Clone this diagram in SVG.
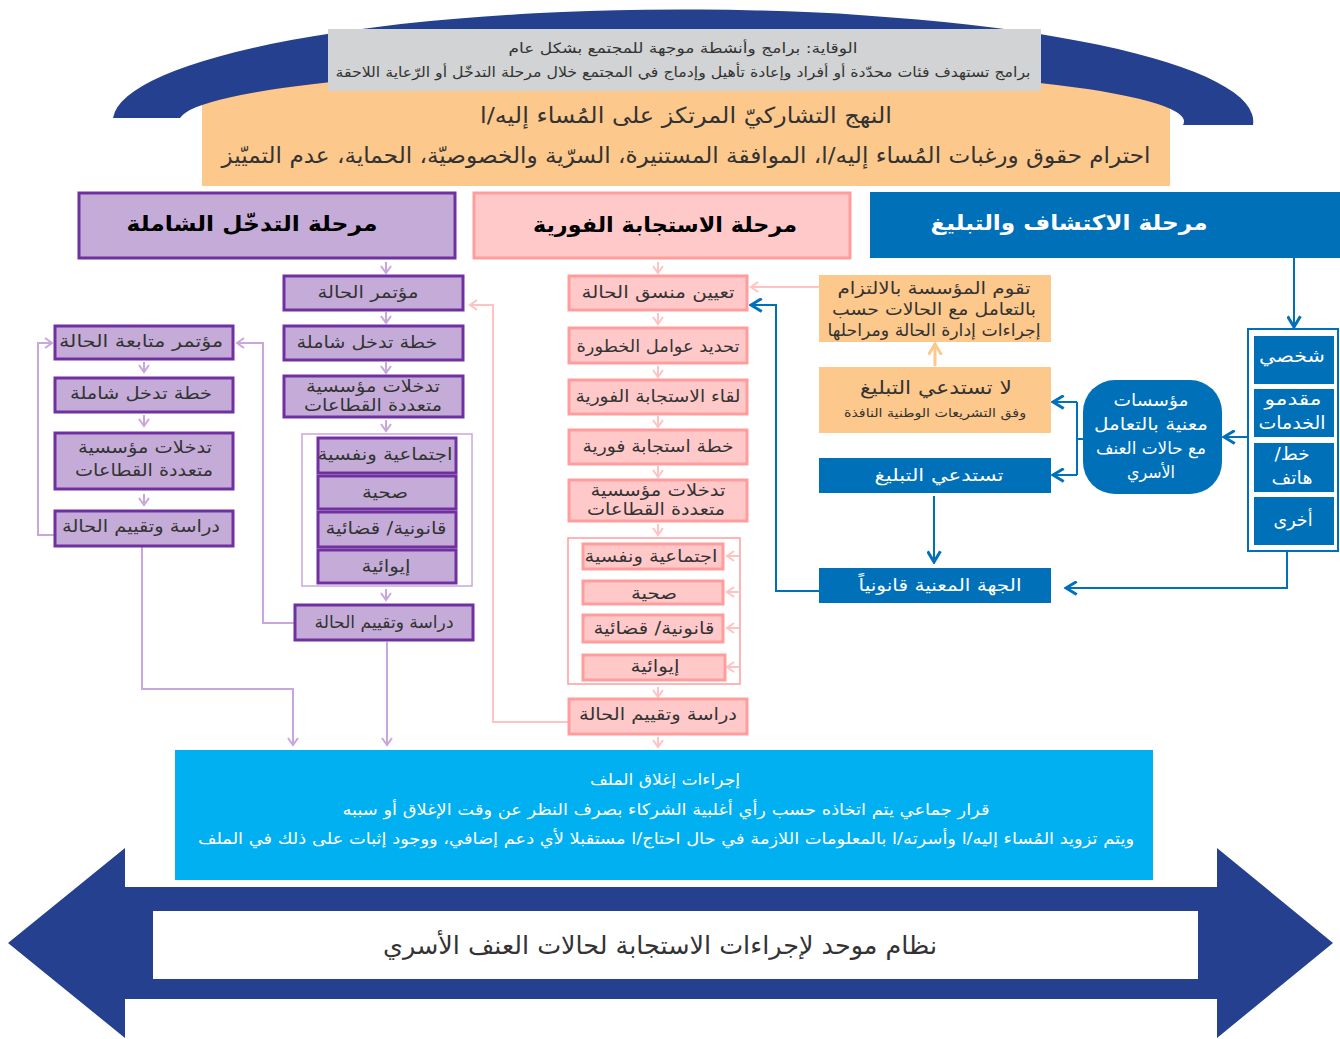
<svg xmlns="http://www.w3.org/2000/svg" width="1340" height="1039" viewBox="0 0 1340 1039">
<style>
text{font-family:'DejaVu Sans','Noto Sans',sans-serif;text-anchor:middle;direction:rtl;}
.d{fill:#333;font-size:17px;}
.w{fill:#fff;font-size:17px;}
.h{fill:#000;font-size:21px;font-weight:bold;}
.hw{fill:#fff;font-size:21px;font-weight:bold;}
.pb{fill:#c5acd8;stroke:#7030a0;stroke-width:3;}
.pk{fill:#ffc9c9;stroke:#ff9d9d;stroke-width:3;}
.bl{fill:#0070b9;}
.or{fill:#fdc88c;}
.lp{fill:none;stroke:#c8a8dc;stroke-width:2;}
.lk{fill:none;stroke:#ffc3c3;stroke-width:2;}
.lb{fill:none;stroke:#0070b9;stroke-width:2;}
.lo{fill:none;stroke:#fdc88c;stroke-width:3;}
</style>
<defs>
<marker id="mp" viewBox="0 0 12 12" refX="10" refY="6" markerWidth="12" markerHeight="12" orient="auto" markerUnits="userSpaceOnUse"><path d="M3,1 L10,6 L3,11" fill="none" stroke="#c8a8dc" stroke-width="2"/></marker>
<marker id="mk" viewBox="0 0 12 12" refX="10" refY="6" markerWidth="12" markerHeight="12" orient="auto" markerUnits="userSpaceOnUse"><path d="M3,1 L10,6 L3,11" fill="none" stroke="#ffc3c3" stroke-width="2"/></marker>
<marker id="mb" viewBox="0 0 14 14" refX="12" refY="7" markerWidth="15" markerHeight="15" orient="auto" markerUnits="userSpaceOnUse"><path d="M2,1 L12,7 L2,13" fill="none" stroke="#0070b9" stroke-width="2.8"/></marker>
<marker id="mo" viewBox="0 0 14 14" refX="12" refY="7" markerWidth="15" markerHeight="15" orient="auto" markerUnits="userSpaceOnUse"><path d="M2,1 L12,7 L2,13" fill="none" stroke="#fdc88c" stroke-width="2.8"/></marker>
</defs>

<g id="top">
<rect class="or" x="202" y="72" width="968" height="114"/>
<path d="M113,118 A570,112 0 0 1 1253,125 L1183,125 A502,55 0 0 0 180,118 Z" fill="#25408f"/>
<rect x="328" y="29" width="713" height="62" fill="#d1d3d4"/>
<text class="d" style="font-size:14px" x="683" y="53" textLength="349" lengthAdjust="spacingAndGlyphs">الوقاية: برامج وأنشطة موجهة للمجتمع بشكل عام</text>
<text class="d" style="font-size:14px" x="683" y="77" textLength="695" lengthAdjust="spacingAndGlyphs">برامج تستهدف فئات محدّدة أو أفراد وإعادة تأهيل وإدماج في المجتمع خلال مرحلة التدخّل أو الرّعاية اللاحقة</text>
<text class="d" style="font-size:22px" x="686" y="123" textLength="412" lengthAdjust="spacingAndGlyphs">النهج التشاركيّ المرتكز على المُساء إليه/ا</text>
<text class="d" style="font-size:22px" x="686" y="163" textLength="929" lengthAdjust="spacingAndGlyphs">احترام حقوق ورغبات المُساء إليه/ا، الموافقة المستنيرة، السرّية والخصوصيّة، الحماية، عدم التميّيز</text>
</g>

<g id="connectors">
<path class="lp" d="M386,262 V273" marker-end="url(#mp)"/>
<path class="lp" d="M386,312 V323" marker-end="url(#mp)"/>
<path class="lp" d="M386,362 V373" marker-end="url(#mp)"/>
<path class="lp" d="M386,420 V431" marker-end="url(#mp)"/>
<path class="lp" d="M386,589 V600" marker-end="url(#mp)"/>
<path class="lp" d="M144,362 V372" marker-end="url(#mp)"/>
<path class="lp" d="M144,415 V426" marker-end="url(#mp)"/>
<path class="lp" d="M144,494 V505" marker-end="url(#mp)"/>
<path class="lp" d="M55,535 H38 V343 H52" marker-end="url(#mp)"/>
<path class="lp" d="M295,623 H263 V343 H237" marker-end="url(#mp)"/>
<path class="lp" d="M142,547 V689 H293 V745" marker-end="url(#mp)"/>
<path class="lp" d="M387,642 V745" marker-end="url(#mp)"/>

<path class="lk" d="M658,262 V273" marker-end="url(#mk)"/>
<path class="lk" d="M658,313 V324" marker-end="url(#mk)"/>
<path class="lk" d="M658,366 V377" marker-end="url(#mk)"/>
<path class="lk" d="M658,416 V427" marker-end="url(#mk)"/>
<path class="lk" d="M658,466 V477" marker-end="url(#mk)"/>
<path class="lk" d="M658,524 V535" marker-end="url(#mk)"/>
<path class="lk" d="M658,687 V697" marker-end="url(#mk)"/>
<path class="lk" d="M658,737 V747" marker-end="url(#mk)"/>
<path class="lk" d="M739,556 H727" marker-end="url(#mk)"/>
<path class="lk" d="M739,592 H727" marker-end="url(#mk)"/>
<path class="lk" d="M739,628 H727" marker-end="url(#mk)"/>
<path class="lk" d="M739,667 H727" marker-end="url(#mk)"/>
<path class="lk" d="M568,722 H493 V305 H470" marker-end="url(#mk)"/>
<path class="lk" d="M819,287 H751" marker-end="url(#mk)"/>

<path class="lb" d="M819,591 H776 V305 H751" marker-end="url(#mb)"/>
<path class="lb" d="M1294,258 V327" marker-end="url(#mb)"/>
<path class="lb" d="M1248,437 H1224" marker-end="url(#mb)"/>
<path class="lb" d="M1083,439 H1077 M1077,402 V475"/>
<path class="lb" d="M1077,402 H1053" marker-end="url(#mb)"/>
<path class="lb" d="M1077,475 H1053" marker-end="url(#mb)"/>
<path class="lb" d="M934,496 V562" marker-end="url(#mb)"/>
<path class="lb" d="M1287,551 V588 H1066" marker-end="url(#mb)"/>
<path class="lo" d="M935,366 V344" marker-end="url(#mo)"/>
</g>

<g id="purple-header"><rect class="pb" x="79" y="193" width="376" height="65"/><text class="h" x="252" y="231" textLength="251" lengthAdjust="spacingAndGlyphs">مرحلة التدخّل الشاملة</text></g>
<g id="p1"><rect class="pb" x="284" y="276" width="179" height="34"/><text class="d" x="368" y="298" textLength="101" lengthAdjust="spacingAndGlyphs">مؤتمر الحالة</text></g>
<g id="p2"><rect class="pb" x="284" y="326" width="179" height="34"/><text class="d" x="367" y="348" textLength="141" lengthAdjust="spacingAndGlyphs">خطة تدخل شاملة</text></g>
<g id="p3"><rect class="pb" x="284" y="376" width="179" height="41"/><text class="d" x="373" y="392" textLength="134" lengthAdjust="spacingAndGlyphs">تدخلات مؤسسية</text><text class="d" x="373" y="411" textLength="138" lengthAdjust="spacingAndGlyphs">متعددة القطاعات</text></g>
<g id="p-group"><rect x="302" y="434" width="170" height="152" fill="none" stroke="#c8a8dc" stroke-width="1.5"/></g>
<g id="p4"><rect class="pb" x="318" y="438" width="138" height="35"/><text class="d" x="385" y="460" textLength="135" lengthAdjust="spacingAndGlyphs">اجتماعية ونفسية</text></g>
<g id="p5"><rect class="pb" x="318" y="476" width="138" height="33"/><text class="d" x="385" y="498" textLength="46" lengthAdjust="spacingAndGlyphs">صحية</text></g>
<g id="p6"><rect class="pb" x="318" y="512" width="138" height="35"/><text class="d" x="386" y="534" textLength="121" lengthAdjust="spacingAndGlyphs">قانونية/ قضائية</text></g>
<g id="p7"><rect class="pb" x="318" y="550" width="138" height="33"/><text class="d" x="386" y="572" textLength="49" lengthAdjust="spacingAndGlyphs">إيوائية</text></g>
<g id="p8"><rect class="pb" x="295" y="605" width="178" height="35"/><text class="d" x="384" y="628" textLength="139" lengthAdjust="spacingAndGlyphs">دراسة وتقييم الحالة</text></g>
<g id="q1"><rect class="pb" x="55" y="326" width="178" height="33"/><text class="d" x="141" y="347" textLength="164" lengthAdjust="spacingAndGlyphs">مؤتمر متابعة الحالة</text></g>
<g id="q2"><rect class="pb" x="55" y="378" width="178" height="34"/><text class="d" x="141" y="399" textLength="142" lengthAdjust="spacingAndGlyphs">خطة تدخل شاملة</text></g>
<g id="q3"><rect class="pb" x="55" y="433" width="178" height="56"/><text class="d" x="145" y="453" textLength="134" lengthAdjust="spacingAndGlyphs">تدخلات مؤسسية</text><text class="d" x="144" y="476" textLength="138" lengthAdjust="spacingAndGlyphs">متعددة القطاعات</text></g>
<g id="q4"><rect class="pb" x="55" y="511" width="178" height="35"/><text class="d" x="141" y="532" textLength="158" lengthAdjust="spacingAndGlyphs">دراسة وتقييم الحالة</text></g>

<g id="pink-header"><rect class="pk" x="474" y="193" width="376" height="65"/><text class="h" x="665" y="232" textLength="264" lengthAdjust="spacingAndGlyphs">مرحلة الاستجابة الفورية</text></g>
<g id="k1"><rect class="pk" x="569" y="276" width="178" height="34"/><text class="d" x="658" y="298" textLength="153" lengthAdjust="spacingAndGlyphs">تعيين منسق الحالة</text></g>
<g id="k2"><rect class="pk" x="569" y="328" width="178" height="35"/><text class="d" x="658" y="352" textLength="163" lengthAdjust="spacingAndGlyphs">تحديد عوامل الخطورة</text></g>
<g id="k3"><rect class="pk" x="569" y="380" width="178" height="34"/><text class="d" x="658" y="402" textLength="165" lengthAdjust="spacingAndGlyphs">لقاء الاستجابة الفورية</text></g>
<g id="k4"><rect class="pk" x="569" y="430" width="178" height="34"/><text class="d" x="658" y="452" textLength="151" lengthAdjust="spacingAndGlyphs">خطة استجابة فورية</text></g>
<g id="k5"><rect class="pk" x="569" y="480" width="178" height="41"/><text class="d" x="658" y="496" textLength="135" lengthAdjust="spacingAndGlyphs">تدخلات مؤسسية</text><text class="d" x="656" y="515" textLength="138" lengthAdjust="spacingAndGlyphs">متعددة القطاعات</text></g>
<g id="k-group"><rect x="568" y="538" width="172" height="146" fill="none" stroke="#ff9d9d" stroke-width="1.5"/></g>
<g id="k6"><rect class="pk" x="583" y="544" width="140" height="25"/><text class="d" x="651" y="562" textLength="133" lengthAdjust="spacingAndGlyphs">اجتماعية ونفسية</text></g>
<g id="k7"><rect class="pk" x="583" y="581" width="140" height="23"/><text class="d" x="654" y="599" textLength="46" lengthAdjust="spacingAndGlyphs">صحية</text></g>
<g id="k8"><rect class="pk" x="583" y="615" width="140" height="27"/><text class="d" x="654" y="634" textLength="121" lengthAdjust="spacingAndGlyphs">قانونية/ قضائية</text></g>
<g id="k9"><rect class="pk" x="583" y="655" width="142" height="25"/><text class="d" x="655" y="672" textLength="49" lengthAdjust="spacingAndGlyphs">إيوائية</text></g>
<g id="k10"><rect class="pk" x="569" y="699" width="178" height="35"/><text class="d" x="658" y="720" textLength="158" lengthAdjust="spacingAndGlyphs">دراسة وتقييم الحالة</text></g>

<g id="blue-header"><rect class="bl" x="870" y="192" width="470" height="66"/><text class="hw" x="1069" y="230" textLength="277" lengthAdjust="spacingAndGlyphs">مرحلة الاكتشاف والتبليغ</text></g>
<g id="b-group"><rect x="1248" y="329" width="90" height="222" fill="#fff" stroke="#0070b9" stroke-width="2"/></g>
<g id="b1"><rect class="bl" x="1254" y="336" width="80" height="48"/><text class="w" style="font-size:18px" x="1292" y="362" textLength="66" lengthAdjust="spacingAndGlyphs">شخصي</text></g>
<g id="b2"><rect class="bl" x="1254" y="389" width="80" height="48"/><text class="w" style="font-size:18px" x="1293" y="405" textLength="57" lengthAdjust="spacingAndGlyphs">مقدمو</text><text class="w" style="font-size:18px" x="1292" y="429" textLength="67" lengthAdjust="spacingAndGlyphs">الخدمات</text></g>
<g id="b3"><rect class="bl" x="1254" y="443" width="80" height="49"/><text class="w" style="font-size:18px" x="1292" y="460" textLength="35" lengthAdjust="spacingAndGlyphs">خط/</text><text class="w" style="font-size:18px" x="1292" y="484" textLength="41" lengthAdjust="spacingAndGlyphs">هاتف</text></g>
<g id="b4"><rect class="bl" x="1254" y="497" width="80" height="48"/><text class="w" style="font-size:18px" x="1293" y="526" textLength="39" lengthAdjust="spacingAndGlyphs">أخرى</text></g>
<g id="b5"><rect class="bl" x="1083" y="380" width="139" height="114" rx="32"/><text class="w" x="1151" y="406" textLength="75" lengthAdjust="spacingAndGlyphs">مؤسسات</text><text class="w" x="1151" y="430" textLength="114" lengthAdjust="spacingAndGlyphs">معنية بالتعامل</text><text class="w" x="1151" y="454" textLength="110" lengthAdjust="spacingAndGlyphs">مع حالات العنف</text><text class="w" x="1151" y="478" textLength="48" lengthAdjust="spacingAndGlyphs">الأسري</text></g>
<g id="b6"><rect class="or" x="819" y="275" width="232" height="67"/><text class="d" x="934" y="294" textLength="193" lengthAdjust="spacingAndGlyphs">تقوم المؤسسة بالالتزام</text><text class="d" x="934" y="315" textLength="204" lengthAdjust="spacingAndGlyphs">بالتعامل مع الحالات حسب</text><text class="d" x="934" y="336" textLength="213" lengthAdjust="spacingAndGlyphs">إجراءات إدارة الحالة ومراحلها</text></g>
<g id="b7"><rect class="or" x="819" y="367" width="232" height="66"/><text class="d" style="font-size:19px" x="936" y="394" textLength="152" lengthAdjust="spacingAndGlyphs">لا تستدعي التبليغ</text><text class="d" style="font-size:12px" x="935" y="417" textLength="182" lengthAdjust="spacingAndGlyphs">وفق التشريعات الوطنية النافذة</text></g>
<g id="b8"><rect class="bl" x="819" y="458" width="232" height="35"/><text class="w" x="939" y="481" textLength="129" lengthAdjust="spacingAndGlyphs">تستدعي التبليغ</text></g>
<g id="b9"><rect class="bl" x="819" y="568" width="232" height="35"/><text class="w" x="940" y="591" textLength="163" lengthAdjust="spacingAndGlyphs">الجهة المعنية قانونياً</text></g>

<g id="closing"><rect x="175" y="750" width="978" height="130" fill="#00b0f0"/>
<text class="w" style="font-size:16px" x="665" y="785" textLength="150" lengthAdjust="spacingAndGlyphs">إجراءات  إغلاق الملف</text>
<text class="w" style="font-size:16px" x="666" y="815" textLength="647" lengthAdjust="spacingAndGlyphs">قرار جماعي يتم اتخاذه حسب رأي أغلبية الشركاء بصرف النظر عن وقت الإغلاق أو سببه</text>
<text class="w" style="font-size:16px" x="666" y="844" textLength="936" lengthAdjust="spacingAndGlyphs">ويتم تزويد المُساء إليه/ا وأسرته/ا بالمعلومات اللازمة في حال احتاج/ا مستقبلا لأي دعم إضافي، ووجود إثبات على ذلك في الملف</text>
</g>

<g id="system">
<polygon points="8,943 125,848 125,887 1217,887 1217,848 1333,943 1217,1038 1217,999 125,999 125,1038" fill="#25408f"/>
<rect x="153" y="911" width="1045" height="68" fill="#fff"/>
<text class="d" style="font-size:25px" x="660" y="954" textLength="554" lengthAdjust="spacingAndGlyphs">نظام موحد لإجراءات الاستجابة لحالات العنف الأسري</text>
</g>
</svg>
